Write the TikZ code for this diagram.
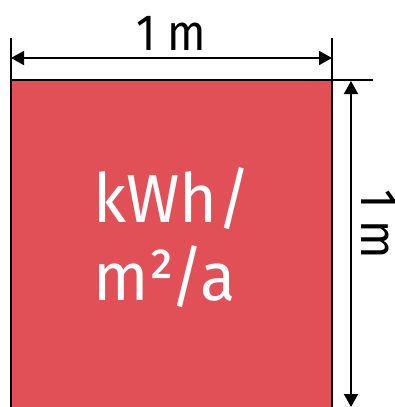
\documentclass[tikz,border=0pt]{standalone}
\usepackage{fontspec}
\setmainfont{Fira Sans}
\newfontfamily\dimfont{Fira Sans}[FakeStretch=0.88]
\newfontfamily\bigfont{Fira Sans}[FakeStretch=0.95]
\usetikzlibrary{arrows.meta}
\definecolor{sqred}{RGB}{225,80,87}
\tikzset{
  dimline/.style={line width=2pt,{Triangle[length=13pt,width=14pt]}-{Triangle[length=13pt,width=14pt]}},
  edge/.style={line width=2pt},
  dimlabel/.style={inner sep=0pt,font=\dimfont\fontsize{51}{51}\selectfont},
  biglabel/.style={inner sep=0pt,text=white,font=\bigfont\fontsize{68}{68}\selectfont,anchor=base west},
}
\begin{document}
\begin{tikzpicture}[x=1pt,y=-1pt]
\useasboundingbox (0,0) rectangle (394,407);
\begin{scope}
\clip (0,0) rectangle (394,407);
\fill[sqred] (11,80) rectangle (332,420);
\coordinate (lt) at (11,38);
\coordinate (lb) at (11,420);
\coordinate (rt) at (332,38);
\coordinate (rb) at (332,420);
\coordinate (tl) at (11,80);
\coordinate (tr) at (373,80);
\draw[edge] (lt) -- (lb);
\draw[edge] (rt) -- (rb);
\draw[edge] (tl) -- (tr);
\coordinate (ha) at (11,58);
\coordinate (hb) at (332,58);
\draw[dimline] (ha) -- (hb);
\coordinate (va) at (351,81);
\coordinate (vb) at (351,407);
\draw[dimline] (va) -- (vb);
\node[dimlabel,anchor=base] (top) at (171,50) {1\hspace{0.22em}m};
\node[dimlabel,anchor=base,rotate=-90] (side) at (361,224) {1\hspace{0.22em}m};
\node[biglabel] (t1) at (93,222) {kWh/};
\node[biglabel] (t2) at (93,300) {m²/a};
\end{scope}
\end{tikzpicture}
\end{document}
